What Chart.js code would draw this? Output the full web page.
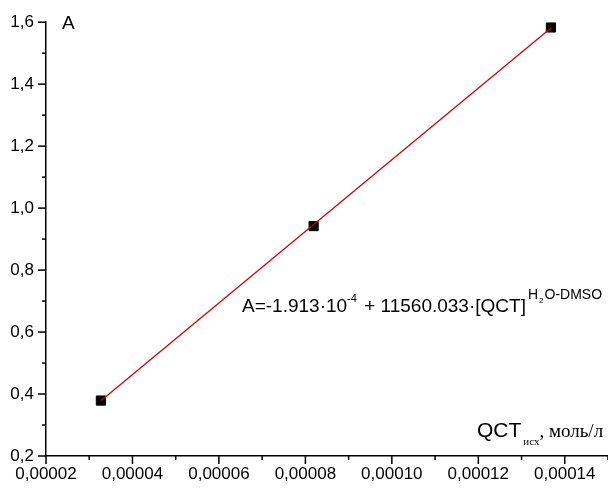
<!DOCTYPE html>
<html>
<head>
<meta charset="utf-8">
<script src="https://cdn.jsdelivr.net/npm/chart.js@4/dist/chart.umd.min.js"></script>
<style>
  html, body { margin: 0; padding: 0; background: #fff; }
  #wrap { width: 608px; height: 488px; }
</style>
</head>
<body>
<div id="wrap"><canvas id="grafico"></canvas></div>
<script>
// measured points
var concQCT = [0.0000327, 0.0000819, 0.0001368];
var absA = [0.379, 0.942, 1.583];

// fitted line, ends
var fitX = [0.0000327, 0.0001368];
var fitY = [0.378, 1.581];

var xTicks = [0.00002, 0.00004, 0.00006, 0.00008, 0.00010, 0.00012, 0.00014];
var yTicks = [0.2, 0.4, 0.6, 0.8, 1.0, 1.2, 1.4, 1.6];

var pontos = concQCT.map(function (x, i) { return { x: x, y: absA[i] }; });
var reta = fitX.map(function (x, i) { return { x: x, y: fitY[i] }; });

var fontSans = "'Liberation Sans', Arial, sans-serif";
var fontSerif = "'Liberation Serif', 'Times New Roman', serif";

// minor/major tick marks + text labels
var extras = {
  id: 'extras',
  afterDraw: function (chart) {
    var ctx = chart.ctx;
    var xs = chart.scales.x, ys = chart.scales.y;
    var area = chart.chartArea;
    ctx.save();
    ctx.strokeStyle = '#000';
    ctx.lineWidth = 1.5;
    for (var i = 0; i < xTicks.length; i++) {
      var px = xs.getPixelForValue(xTicks[i]);
      ctx.beginPath(); ctx.moveTo(px, area.bottom); ctx.lineTo(px, area.bottom + 8); ctx.stroke();
      var mx = xs.getPixelForValue(xTicks[i] + 0.00001);
      if (mx <= area.right) {
        ctx.beginPath(); ctx.moveTo(mx, area.bottom); ctx.lineTo(mx, area.bottom + 4); ctx.stroke();
      }
    }
    for (var j = 0; j < yTicks.length; j++) {
      var py = ys.getPixelForValue(yTicks[j]);
      ctx.beginPath(); ctx.moveTo(area.left, py); ctx.lineTo(area.left - 8, py); ctx.stroke();
      if (j < yTicks.length - 1) {
        var my = ys.getPixelForValue(yTicks[j] + 0.1);
        ctx.beginPath(); ctx.moveTo(area.left, my); ctx.lineTo(area.left - 4, my); ctx.stroke();
      }
    }

    ctx.fillStyle = '#000';
    ctx.textBaseline = 'alphabetic';
    ctx.textAlign = 'left';

    // "A"
    ctx.font = '19px ' + fontSans;
    ctx.fillText('A', 62, 29);

    // equation
    var x = 242, b = 312;
    ctx.font = '19px ' + fontSans;
    var s1 = 'A=-1.913\u00b710';
    ctx.fillText(s1, x, b); x += ctx.measureText(s1).width;
    ctx.font = '11px ' + fontSans;
    ctx.fillText('-4', x, b - 10); x += ctx.measureText('-4').width + 2;
    ctx.font = '19px ' + fontSans;
    var s2 = ' + 11560.033\u00b7[QCT]';
    ctx.fillText(s2, x, b); x += ctx.measureText(s2).width + 2;
    ctx.font = '14px ' + fontSans;
    ctx.fillText('H', x, b - 13); x += ctx.measureText('H').width + 1;
    ctx.font = '8px ' + fontSans;
    ctx.fillText('2', x, b - 9); x += ctx.measureText('2').width + 1;
    ctx.font = '14px ' + fontSans;
    ctx.fillText('O-DMSO', x, b - 13);

    // axis title
    x = 477; b = 437;
    ctx.font = '21px ' + fontSans;
    ctx.fillText('QCT', x, b); x += ctx.measureText('QCT').width + 2;
    ctx.font = '11px ' + fontSerif;
    ctx.fillText('\u0438\u0441\u0445', x, b + 8); x += ctx.measureText('\u0438\u0441\u0445').width;
    ctx.font = '19px ' + fontSerif;
    ctx.fillText(', \u043c\u043e\u043b\u044c/\u043b', x, b);
    ctx.restore();
  }
};

var ctx = document.getElementById('grafico');

var grafico = new Chart(ctx, {
  type: 'scatter',
  data: {
    datasets: [
      {
        label: 'fit',
        data: reta,
        showLine: true,
        borderColor: 'rgb(210, 0, 0)',
        borderWidth: 1.3,
        pointRadius: 0,
        order: 0
      },
      {
        label: 'A',
        data: pontos,
        pointStyle: 'rect',
        pointRadius: 6.5,
        backgroundColor: '#000',
        borderColor: '#000',
        borderWidth: 1,
        order: 1
      }
    ]
  },
  options: {
    responsive: true,
    maintainAspectRatio: false,
    animation: false,
    layout: { autoPadding: false, padding: { top: 20, right: 0, left: 0, bottom: 0 } },
    plugins: { legend: { display: false }, tooltip: { enabled: false } },
    scales: {
      x: {
        type: 'linear',
        min: 0.00002,
        max: 0.00015,
        afterFit: function (s) { s.height = 32; s.paddingRight = 0; s.paddingLeft = 0; },
        afterBuildTicks: function (s) { s.ticks = xTicks.map(function (v) { return { value: v }; }); },
        ticks: {
          color: '#000',
          padding: 8,
          maxRotation: 0,
          font: { family: fontSans, size: 17 },
          callback: function (v) { return v.toFixed(5).replace('.', ','); }
        },
        grid: { drawOnChartArea: false, drawTicks: false },
        border: { color: '#000', width: 1.5 }
      },
      y: {
        type: 'linear',
        min: 0.2,
        max: 1.6,
        afterFit: function (s) { s.width = 46; },
        afterBuildTicks: function (s) { s.ticks = yTicks.map(function (v) { return { value: v }; }); },
        ticks: {
          color: '#000',
          padding: 12,
          font: { family: fontSans, size: 17 },
          callback: function (v) { return v.toFixed(1).replace('.', ','); }
        },
        grid: { drawOnChartArea: false, drawTicks: false },
        border: { color: '#000', width: 1.5 }
      }
    }
  },
  plugins: [extras]
});
</script>
</body>
</html>
